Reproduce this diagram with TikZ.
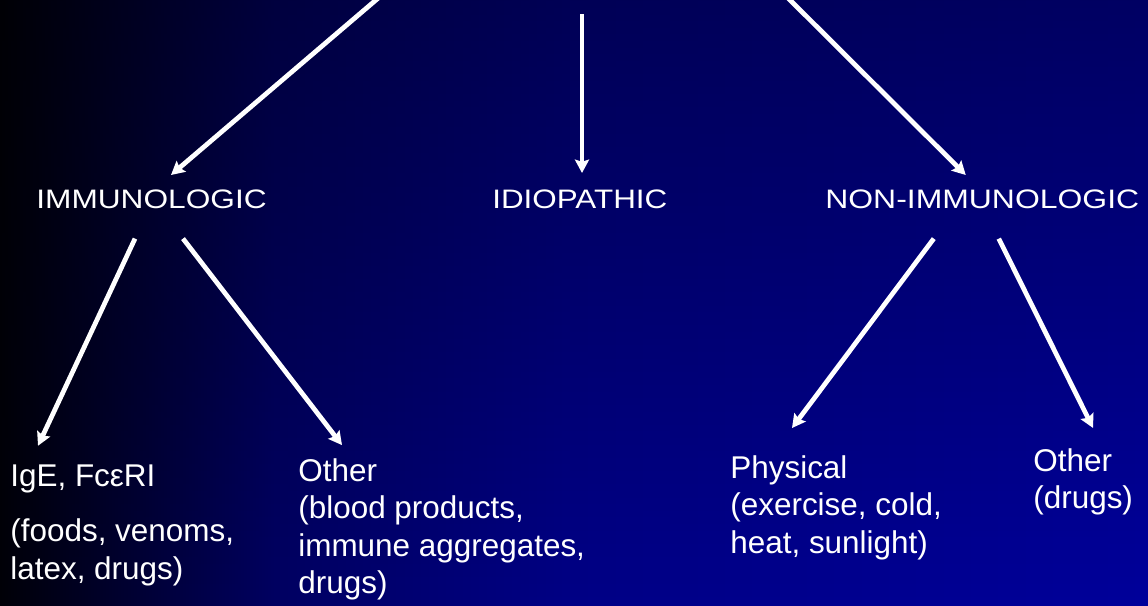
\documentclass[tikz,border=0pt]{standalone}
\usepackage{graphicx}
\usepackage{fontspec}
\setmainfont{Liberation Sans}
\usetikzlibrary{arrows.meta, calc, fadings}

\definecolor{bgleft}{RGB}{0,0,8}
\definecolor{bgquart}{RGB}{0,0,98}
\definecolor{bgmid}{RGB}{0,0,134}
\definecolor{bgright}{RGB}{0,0,155}
\pgfdeclarehorizontalshading{slidebg}{100bp}{color(0bp)=(bgleft); color(25bp)=(bgleft);
  color(37bp)=(bgquart); color(50bp)=(bgmid); color(75bp)=(bgright); color(100bp)=(bgright)}
\tikzfading[name=topdark, top color=transparent!64, bottom color=transparent!100]

\tikzset{
  arr/.style={white, line width=2.7pt, -{Stealth[length=7.6pt, width=8pt, inset=1.2pt]}},
  toplabel/.style={text=white, inner sep=0pt, anchor=base west, font=\fontsize{15.2}{18}\selectfont},
  leaf/.style={text=white, inner sep=0pt, anchor=base west, align=left, font=\fontsize{17.9}{21.3}\selectfont},
}

\begin{document}
\begin{tikzpicture}[x=0.02cm, y=-0.02cm]
  % background
  \useasboundingbox (0,0) rectangle (1148,605);
  \shade[shading=slidebg] (0,0) rectangle (1148,605);
  \fill[black, path fading=topdark] (0,0) rectangle (1148,605);

  % main classes
  \node[toplabel] (immuno) at (36,208) {\scalebox{1.185}[1]{IMMUNOLOGIC}};
  \node[toplabel] (idio) at (492,208) {\scalebox{1.175}[1]{IDIOPATHIC}};
  \node[toplabel] (nonimmuno) at (825,208) {\scalebox{1.195}[1]{NON-IMMUNOLOGIC}};

  % sub classes (placed at the baseline of their last line)
  \node[leaf] (ige) at (10,579) {IgE, FcεRI\\[9.9pt](foods, venoms,\\latex, drugs)};
  \node[leaf] (otherim) at (298,593.5) {Other\\(blood products,\\immune aggregates,\\drugs)};
  \node[leaf] (physical) at (730,553) {Physical\\(exercise, cold,\\heat, sunlight)};
  \node[leaf] (othernon) at (1033,508.5) {Other\\(drugs)};

  % arrows from above
  \coordinate (topl) at (383,-6);
  \coordinate (topm) at (582,14);
  \coordinate (topr) at (784,-6);
  \draw[arr] (topl) -- ($(immuno.north)+(19.5,-14)$);
  \draw[arr] (topm) -- ($(topm |- idio.north)+(0,-16)$);
  \draw[arr] (topr) -- ($(nonimmuno.north)+(-16.5,-14)$);

  % arrows to sub classes
  \draw[arr] ($(immuno.south)+(-16.5,30)$) -- ($(ige.north west)+(28,-19)$);
  \draw[arr] ($(immuno.south)+(31.5,30)$) -- ($(otherim.north west)+(44,-13)$);
  \draw[arr] ($(nonimmuno.south)+(-48.5,30)$) -- ($(physical.north west)+(62,-27)$);
  \draw[arr] ($(nonimmuno.south)+(16.5,30)$) -- ($(othernon.north west)+(60,-20)$);
\end{tikzpicture}
\end{document}
